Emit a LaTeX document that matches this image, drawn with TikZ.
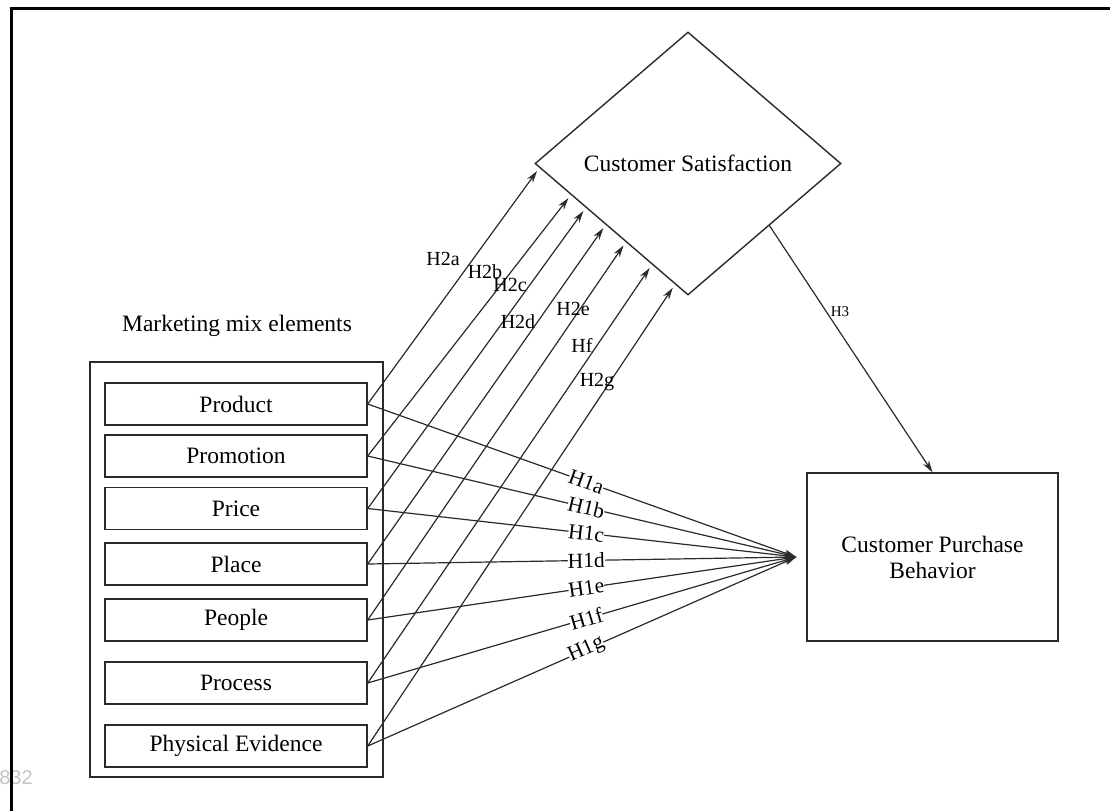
\documentclass[tikz,border=0pt]{standalone}
\usepackage{fontspec}
\setmainfont{Liberation Serif}
\newfontfamily\pagenumfont{Liberation Sans}
\usetikzlibrary{arrows.meta,shapes.geometric,calc}
\definecolor{linec}{HTML}{2A2A2A}
\definecolor{pagegray}{HTML}{C4C4C4}
\begin{document}
\begin{tikzpicture}[x=1pt,y=-1pt,
  every node/.style={font=\fontsize{23.5}{26}\selectfont},
  lbox/.style={draw=linec, line width=1.4pt, minimum width=262pt, minimum height=42pt, inner sep=0pt},
  conn/.style={draw=linec, line width=1.2pt},
  arr/.style={conn, -{Stealth[length=12pt,width=7pt]}},
  htwo/.style={font=\fontsize{20}{22}\selectfont, inner sep=0pt},
  hone/.style={font=\fontsize{21.5}{23}\selectfont, fill=white, inner sep=0pt, sloped, pos=0.51},
]
\useasboundingbox (0,0) rectangle (1110,811);
% page number fragment
\node[font=\pagenumfont\fontsize{20}{22}\selectfont, text=pagegray] (pgnum) at (16,778) {832};
% frame
\draw[line width=3pt, line join=miter] (11,811) -- (11,8) -- (1110,8);

% marketing mix group
\node (mmtitle) at (237,326) {Marketing mix elements};
\node[draw=linec, line width=1.4pt, minimum width=293pt, minimum height=415pt, inner sep=0pt] (group) at (236.5,569.5) {};
\node[lbox] (p1) at (236,404) {Product};
\node[lbox] (p2) at (236,456) {Promotion};
\node[lbox] (p3) at (236,508.5) {Price};
\node[lbox] (p4) at (236,564) {Place};
\node[lbox] (p5) at (236,620) {People};
\node[lbox] (p6) at (236,683) {Process};
\node[lbox] (p7) at (236,746) {Physical Evidence};

% customer satisfaction diamond
\node[draw=linec, line width=1.4pt, shape=diamond, minimum width=306pt, minimum height=263pt, inner sep=0pt] (cs) at (688,163.5) {Customer Satisfaction};

% customer purchase behaviour
\node[draw=linec, line width=1.4pt, minimum width=251pt, minimum height=168pt, inner sep=0pt, align=center] (cpb) at (932.5,557) {Customer Purchase\\Behavior};

\coordinate (hub) at ($(cpb.west)+(-10,0)$);

% H1 connectors
\draw[arr] (p1.east) -- node[hone] {H1a} (hub);
\draw[arr] (p2.east) -- node[hone] {H1b} (hub);
\draw[arr] (p3.east) -- node[hone] {H1c} (hub);
\draw[arr] (p4.east) -- node[hone] {H1d} (hub);
\draw[arr] (p5.east) -- node[hone] {H1e} (hub);
\draw[arr] (p6.east) -- node[hone] {H1f} (hub);
\draw[arr] (p7.east) -- node[hone] {H1g} (hub);

% H2 targets on lower-left edge of diamond
\coordinate (t1) at ($(cs.west)!0.033!(cs.south)$);
\coordinate (t2) at ($(cs.west)!0.238!(cs.south)$);
\coordinate (t3) at ($(cs.west)!0.335!(cs.south)$);
\coordinate (t4) at ($(cs.west)!0.464!(cs.south)$);
\coordinate (t5) at ($(cs.west)!0.595!(cs.south)$);
\coordinate (t6) at ($(cs.west)!0.765!(cs.south)$);
\coordinate (t7) at ($(cs.west)!0.915!(cs.south)$);

\draw[arr, shorten >=4pt] (p1.east) -- (t1);
\draw[arr, shorten >=4pt] (p2.east) -- (t2);
\draw[arr, shorten >=4pt] (p3.east) -- (t3);
\draw[arr, shorten >=4pt] (p4.east) -- (t4);
\draw[arr, shorten >=4pt] (p5.east) -- (t5);
\draw[arr, shorten >=4pt] (p6.east) -- (t6);
\draw[arr, shorten >=4pt] (p7.east) -- (t7);

% H2 labels
\node[htwo] (l2a) at (443,259) {H2a};
\node[htwo] (l2b) at (485,272) {H2b};
\node[htwo] (l2c) at (510,285) {H2c};
\node[htwo] (l2d) at (518,322) {H2d};
\node[htwo] (l2e) at (573,309) {H2e};
\node[htwo] (l2f) at (582,345) {Hf};
\node[htwo] (l2g) at (597,382) {H2g};

% H3
\coordinate (h3s) at ($(cs.east)!0.47!(cs.south)$);
\draw[arr] (h3s) -- (cpb.north);
\node[font=\fontsize{15}{17}\selectfont, inner sep=0pt] (l3) at (840,312) {H3};
\end{tikzpicture}
\end{document}
